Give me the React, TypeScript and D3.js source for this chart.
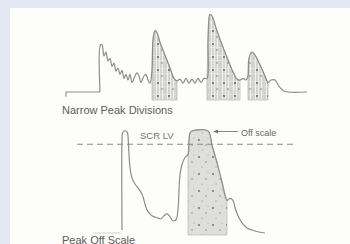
import * as d3 from "d3";

// time in minutes, response in % of full scale
const narrowStart: [number, number][] = [
  [0.6, -6], [0.6, 0], [4.0, 0],
];

const narrowTrace: [number, number][] = [
  [4.0, 0], [4.05, 59], [4.2, 59], [4.4, 45], [4.6, 50], [4.8, 39], [5.0, 42],
  [5.2, 32], [5.4, 36], [5.6, 26], [5.8, 30], [6.0, 22], [6.2, 27], [6.4, 17],
  [6.6, 22], [6.8, 15], [7.0, 22], [7.2, 12], [7.5, 20], [7.7, 24], [7.9, 20],
  [8.1, 12], [8.4, 20], [8.6, 22], [8.8, 15], [9.0, 11], [9.2, 27], [9.3, 65],
  [9.5, 77], [9.7, 74], [10.0, 62], [10.5, 46], [11.0, 30], [11.4, 17],
  [11.7, 14], [12.0, 16], [12.3, 11], [12.6, 17], [12.9, 11], [13.2, 16],
  [13.5, 11], [13.8, 17], [14.1, 12], [14.4, 17], [14.7, 17], [14.8, 65],
  [15.0, 97], [15.2, 95], [15.6, 80], [16.2, 59], [16.8, 40], [17.3, 25],
  [17.7, 16], [18.0, 15], [18.3, 17], [18.6, 15], [18.8, 20], [18.9, 42],
  [19.2, 50], [19.5, 46], [20.0, 34], [20.5, 20], [20.8, 12], [21.1, 15],
  [21.5, 15], [21.9, 7], [22.3, 2], [22.8, 0], [24.7, 0],
];

const narrowDivisions: [number, number][] = [
  [9.2, 11.7],
  [14.7, 18.0],
  [18.8, 21.0],
];

const offScaleTrace: [number, number][] = [
  [6.2, 3], [6.2, 91], [6.25, 98], [6.4, 100], [6.6, 100], [6.75, 98],
  [6.85, 86], [7.0, 64], [7.2, 54], [7.5, 48], [7.9, 43], [8.2, 38], [8.4, 32],
  [8.6, 25], [8.8, 21], [9.2, 17], [9.7, 15], [10.1, 14], [10.4, 17],
  [10.7, 19], [11.0, 16], [11.3, 12], [11.6, 13], [11.8, 23], [11.9, 42],
  [12.0, 57], [12.2, 67], [12.5, 74], [12.8, 77], [12.9, 91], [13.0, 98],
  [13.2, 100], [14.8, 100], [15.2, 86], [15.7, 69], [16.2, 50], [16.7, 32],
  [17.0, 34], [17.3, 32], [17.5, 25], [17.8, 17], [18.2, 10], [18.7, 5],
  [19.5, 2], [20.5, 0],
];

const offScaleMarker: [number, number][] = [
  [3.3, 0], [6.1, 0],
];

const offScaleDivision: [number, number] = [12.8, 16.7];
const scrLevel = 87;
const scrSpan: [number, number] = [1.7, 23.3];
const offScaleArrow: [number, number] = [15.3, 17.8];

const W = 350;
const H = 244;

export default function App() {
  const x = d3.scaleLinear().domain([0, 25]).range([60, 310]);
  const yTop = d3.scaleLinear().domain([0, 100]).range([92, 12]);
  const yBot = d3.scaleLinear().domain([0, 100]).range([233, 131]);

  const smooth = d3.curveCatmullRom.alpha(0.5);

  const topLine = d3
    .line<[number, number]>()
    .x((d) => x(d[0]))
    .y((d) => yTop(d[1]))
    .curve(smooth);
  const topStep = d3
    .line<[number, number]>()
    .x((d) => x(d[0]))
    .y((d) => yTop(d[1]));
  const topArea = d3
    .area<[number, number]>()
    .x((d) => x(d[0]))
    .y0(yTop(-10))
    .y1((d) => yTop(d[1]))
    .curve(smooth);

  const botLine = d3
    .line<[number, number]>()
    .x((d) => x(d[0]))
    .y((d) => yBot(d[1]))
    .curve(smooth);
  const botArea = d3
    .area<[number, number]>()
    .x((d) => x(d[0]))
    .y0(yBot(-2))
    .y1((d) => yBot(d[1]))
    .curve(smooth);

  const stroke = "#8c8c8c";
  const txt = "#5c5c5c";
  const font = "'Liberation Sans', Arial, sans-serif";

  return (
    <svg
      width={W}
      height={H}
      style={{ position: "absolute", left: 0, top: 0 }}
    >
      <defs>
        <pattern id="hatch" width="3" height="5" patternUnits="userSpaceOnUse">
          <rect width="3" height="5" fill="#f1f1ef" />
          <path d="M1,0 L1,2.5 M1,3.5 L1,5" stroke="#9a9a9a" strokeWidth="0.7" />
          <path d="M0,2 L1,3 L2,2" stroke="#b5b5b5" strokeWidth="0.4" fill="none" />
        </pattern>
        <pattern id="specks" width="14" height="17" patternUnits="userSpaceOnUse">
          <rect width="14" height="17" fill="#dededc" />
          <circle cx="3" cy="4" r="0.9" fill="#666" />
          <circle cx="10" cy="9" r="0.7" fill="#777" />
          <circle cx="6" cy="14" r="0.6" fill="#888" />
          <circle cx="12" cy="2" r="0.5" fill="#999" />
        </pattern>
        <pattern id="tspecks" width="11" height="13" patternUnits="userSpaceOnUse">
          <rect width="11" height="13" fill="url(#hatch)" />
          <circle cx="4" cy="5" r="0.9" fill="#555" />
          <circle cx="8" cy="11" r="0.7" fill="#666" />
        </pattern>
      </defs>

      <rect width={W} height={H} fill="#e3e6f3" />
      <rect x={10} y={8} width={W - 10} height={H - 8} fill="#fdfdf9" />

      {/* top: narrow peak divisions */}
      {narrowDivisions.map(([a, b], i) => (
        <path
          key={i}
          d={topArea(narrowTrace.filter((d) => d[0] >= a && d[0] <= b)) ?? ""}
          fill="url(#tspecks)"
          stroke="#aaa"
          strokeWidth={0.6}
        />
      ))}
      <path d={topStep(narrowStart) ?? ""} fill="none" stroke={stroke} strokeWidth={1.1} />
      <path d={topLine(narrowTrace) ?? ""} fill="none" stroke={stroke} strokeWidth={1.2} />
      <text x={62} y={113.5} fontFamily={font} fontSize={11} fill={txt}>
        Narrow Peak Divisions
      </text>

      {/* bottom: peak off scale */}
      <path
        d={botArea(
          offScaleTrace.filter(
            (d) => d[0] >= offScaleDivision[0] && d[0] <= offScaleDivision[1]
          )
        ) ?? ""}
        fill="url(#specks)"
        stroke="#b0b0b0"
        strokeWidth={0.6}
      />
      <line
        x1={x(scrSpan[0])}
        x2={x(scrSpan[1])}
        y1={yBot(scrLevel)}
        y2={yBot(scrLevel)}
        stroke="#8a8a8a"
        strokeWidth={1}
        strokeDasharray="6,4"
      />
      <path
        d={d3.line()(offScaleMarker.map((d) => [x(d[0]), yBot(d[1])])) ?? ""}
        stroke="#c4c4c4"
        strokeWidth={0.8}
      />
      <path d={botLine(offScaleTrace) ?? ""} fill="none" stroke={stroke} strokeWidth={1.2} />
      <text x={140} y={138.5} fontFamily={font} fontSize={9.5} fill="#777">
        SCR LV
      </text>
      <line
        x1={x(offScaleArrow[0]) + 4}
        x2={x(offScaleArrow[1])}
        y1={yBot(100) + 0.5}
        y2={yBot(100) + 0.5}
        stroke="#777"
        strokeWidth={0.9}
      />
      <path
        d={`M${x(offScaleArrow[0])},${yBot(100) + 0.5} l5,-2 l0,4 z`}
        fill="#777"
      />
      <text x={241} y={135.5} fontFamily={font} fontSize={9} fill="#666">
        Off scale
      </text>
      <text x={62} y={243.5} fontFamily={font} fontSize={11} fill={txt}>
        Peak Off Scale
      </text>
    </svg>
  );
}
